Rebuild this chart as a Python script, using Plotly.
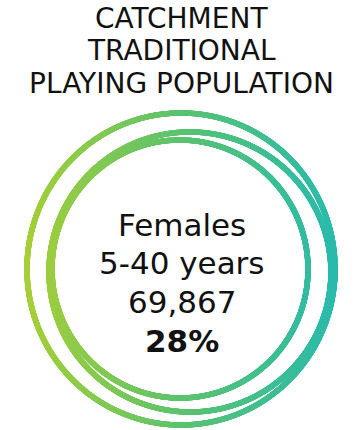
import numpy as np
import plotly.graph_objects as go

# ---- data ----
title_lines = ["CATCHMENT", "TRADITIONAL", "PLAYING POPULATION"]
group_label = ["Females", "5-40 years"]
population = [69867]
share_pct = [28]

W, H = 363, 430
FONT = "DejaVu Sans"

# decorative rings: (cx, cy, rx, ry, rotation deg)
rings = [
    (181, 269, 154, 156, 0),
    (190, 272, 141, 140, 8),
    (180, 269, 128, 129, -6),
]

colorscale = [[0.0, "#a8cf38"], [0.5, "#5cc36f"], [1.0, "#2bbbad"]]

fig = go.Figure()
t = np.linspace(0, 2 * np.pi, 2400)
for cx, cy, rx, ry, rot in rings:
    a = np.deg2rad(rot)
    x0 = rx * np.cos(t)
    y0 = ry * np.sin(t)
    x = cx + x0 * np.cos(a) - y0 * np.sin(a)
    y = cy + x0 * np.sin(a) + y0 * np.cos(a)
    fig.add_trace(go.Scatter(
        x=x, y=y, mode="markers",
        marker=dict(size=5.5, color=x, colorscale=colorscale, cmin=25, cmax=335,
                    line=dict(width=0)),
        hoverinfo="skip", showlegend=False,
    ))

for i, line in enumerate(title_lines):
    fig.add_annotation(x=W / 2, y=18 + i * 32.5, text=line, showarrow=False,
                       xanchor="center", yanchor="middle",
                       font=dict(family=FONT, size=28, color="#111111"))

center_lines = group_label + [f"{population[0]:,}", f"<b>{share_pct[0]}%</b>"]
ys = [225, 263, 302, 341]
for yv, line in zip(ys, center_lines):
    fig.add_annotation(x=182, y=yv, text=line, showarrow=False,
                       xanchor="center", yanchor="middle",
                       font=dict(family=FONT, size=31, color="#111111"))

fig.update_layout(
    width=W, height=H, margin=dict(l=0, r=0, t=0, b=0),
    paper_bgcolor="white", plot_bgcolor="white",
    xaxis=dict(range=[0, W], visible=False, fixedrange=True),
    yaxis=dict(range=[H, 0], visible=False, fixedrange=True),
)
fig.write_html("out.html", config={"displayModeBar": False},
               post_script="document.body.style.margin='0';document.body.style.overflow='hidden';")
